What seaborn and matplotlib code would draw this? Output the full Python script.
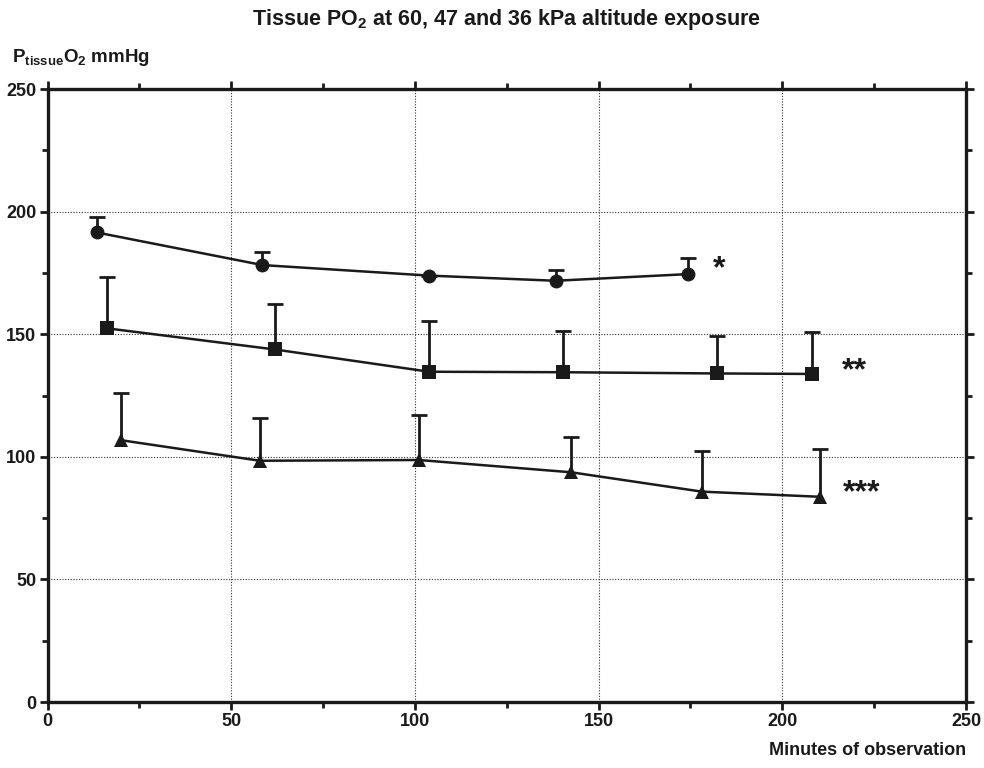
import numpy as np
import pandas as pd
import matplotlib
matplotlib.use("Agg")
import matplotlib.pyplot as plt
import seaborn as sns
from matplotlib.ticker import MultipleLocator

# values
kpa60_x = [13.4, 58.5, 103.9, 138.3, 174.2]
kpa60_y = [191.5, 178.2, 173.9, 171.8, 174.5]
kpa60_top = [197.9, 183.6, 173.9, 176.2, 181.2]

kpa47_x = [16.2, 61.8, 103.9, 140.2, 182.1, 208.2]
kpa47_y = [152.4, 143.8, 134.7, 134.5, 134.0, 133.8]
kpa47_top = [173.5, 162.4, 155.3, 151.2, 149.3, 151.0]

kpa36_x = [19.9, 57.8, 101.1, 142.5, 178.1, 210.3]
kpa36_y = [106.8, 98.4, 98.7, 93.7, 85.8, 83.7]
kpa36_top = [125.9, 115.7, 116.9, 108.1, 102.2, 103.3]

stars = ["*", "**", "***"]
star_x = [182.8, 219.6, 221.6]
star_y = [176.6, 134.7, 85.3]

groups = ["60 kPa", "47 kPa", "36 kPa"]
markers = {"60 kPa": "o", "47 kPa": "s", "36 kPa": "^"}

df = pd.concat([
    pd.DataFrame({"minutes": kpa60_x, "po2": kpa60_y, "top": kpa60_top, "group": "60 kPa"}),
    pd.DataFrame({"minutes": kpa47_x, "po2": kpa47_y, "top": kpa47_top, "group": "47 kPa"}),
    pd.DataFrame({"minutes": kpa36_x, "po2": kpa36_y, "top": kpa36_top, "group": "36 kPa"}),
], ignore_index=True)

sns.set_style("ticks")
plt.rcParams["font.family"] = ["Liberation Sans", "DejaVu Sans"]
plt.rcParams["font.weight"] = "bold"
plt.rcParams["mathtext.fontset"] = "custom"
plt.rcParams["mathtext.rm"] = "Liberation Sans:bold"
plt.rcParams["mathtext.it"] = "Liberation Sans:bold"
plt.rcParams["mathtext.bf"] = "Liberation Sans:bold"

ink = "#1a1a1a"
fig = plt.figure(figsize=(9.84, 7.68), dpi=100)
ax = fig.add_axes([0.0483, 0.0859, 0.9334, 0.7982])

# upper-only error bars (lower cap hidden)
for g in groups:
    sub = df[df["group"] == g]
    upper = sub["top"] - sub["po2"]
    eb = ax.errorbar(sub["minutes"], sub["po2"], yerr=[np.zeros(len(sub)), upper],
                     fmt="none", ecolor=ink, elinewidth=2, capsize=5.5, capthick=2, zorder=2)
    eb[1][0].set_visible(False)

sns.lineplot(data=df, x="minutes", y="po2", hue="group", style="group",
             markers=markers, dashes=False, palette=[ink] * 3,
             markersize=10, markeredgewidth=0, linewidth=1.8,
             legend=False, ax=ax, zorder=3)

for s, sx, sy in zip(stars, star_x, star_y):
    ax.text(sx, sy, s, fontsize=23, fontweight="bold", ha="center", va="center", color=ink)

ax.set_xlim(0, 250)
ax.set_ylim(0, 250)
ax.xaxis.set_major_locator(MultipleLocator(50))
ax.xaxis.set_minor_locator(MultipleLocator(25))
ax.yaxis.set_major_locator(MultipleLocator(50))
ax.yaxis.set_minor_locator(MultipleLocator(25))
ax.grid(True, which="major", color="#333333", linestyle=(0, (1, 1.5)), linewidth=0.8)
ax.set_axisbelow(True)

for sp in ax.spines.values():
    sp.set_linewidth(2.4)
    sp.set_color(ink)
    sp.set_visible(True)

ax.tick_params(which="major", direction="out", length=6, width=2, labelsize=13,
               top=True, right=True, labeltop=False, labelright=False, colors=ink, pad=2)
ax.tick_params(which="minor", direction="out", length=4, width=2,
               top=True, right=True, colors=ink)
for lbl in ax.get_xticklabels() + ax.get_yticklabels():
    lbl.set_fontweight("bold")

ax.set_xlabel("")
ax.set_ylabel("")

fig.text(0.515, 0.974, r"Tissue PO$_2$ at 60, 47 and 36 kPa altitude exposure",
         ha="center", va="center", fontsize=15.5, fontweight="bold", color=ink)
fig.text(0.012, 0.925, r"P$_{\mathrm{tissue}}$O$_2$ mmHg",
         ha="left", va="center", fontsize=13.5, fontweight="bold", color=ink)
fig.text(0.9817, 0.012, "Minutes of observation",
         ha="right", va="bottom", fontsize=13, fontweight="bold", color=ink)

fig.savefig("out.png", dpi=100)
